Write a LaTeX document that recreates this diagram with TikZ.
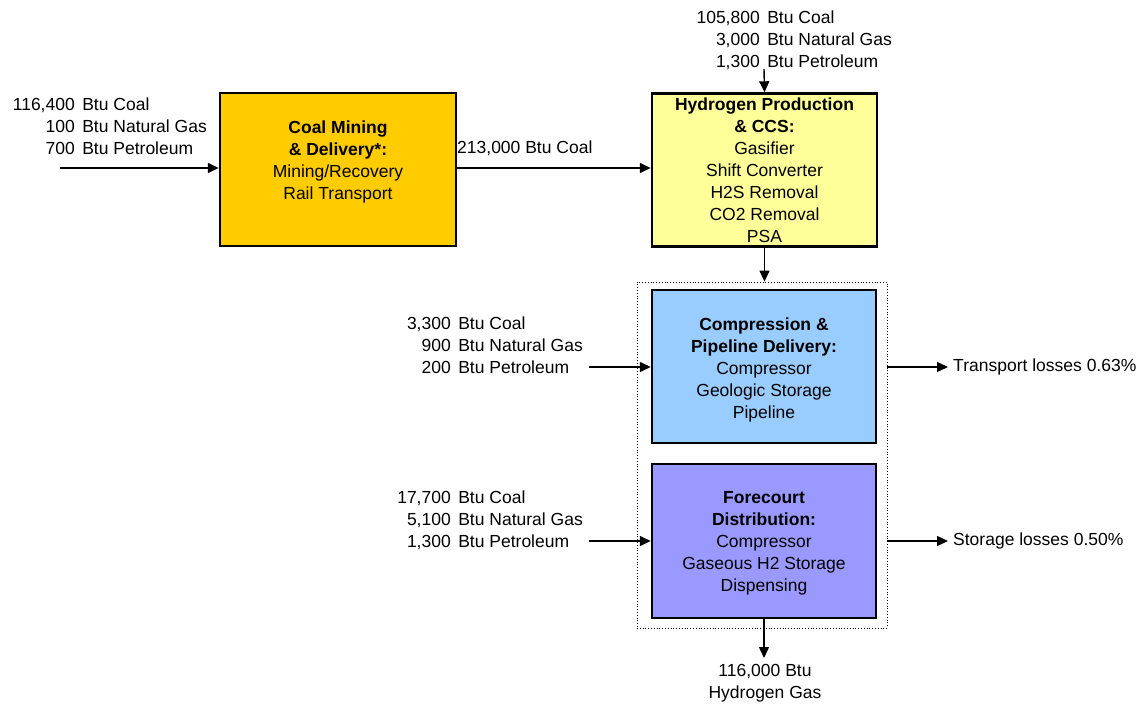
\documentclass[tikz,border=0pt]{standalone}
\usepackage{fontspec}
\setmainfont{Liberation Sans}
\usetikzlibrary{arrows.meta}
\definecolor{coalfill}{HTML}{FFCC00}
\definecolor{hydfill}{HTML}{FFFF99}
\definecolor{compfill}{HTML}{99CCFF}
\definecolor{forefill}{HTML}{9999FF}
\begin{document}
\begin{tikzpicture}[x=1pt,y=-1pt,
  every node/.style={font=\fontsize{17.5}{22}\selectfont, inner sep=0pt},
  procbox/.style={draw=black, line width=2.4pt, minimum width=#1},
  flow/.style={line width=1.4pt, -{Triangle[length=11pt,width=10pt]}},
  intext/.style={anchor=east, align=right},
  boxtext/.style={align=center}
]
\useasboundingbox (0,0) rectangle (1141,707);
\renewcommand{\arraystretch}{1}
\newcommand{\inputs}[3]{\begin{tabular}{@{}r@{\hspace{7.5pt}}l@{}}#1 & Btu Coal\\ #2 & Btu Natural Gas\\ #3 & Btu Petroleum\end{tabular}}

% dotted container
\node[draw=black, dotted, line width=0.8pt, minimum width=250pt, minimum height=346pt] (grp) at (762,455) {};

% boxes
\node[procbox=236pt, fill=coalfill, minimum height=153pt] (coal) at (338,169.5) {};
\node[procbox=225pt, fill=hydfill, minimum height=153pt] (hyd) at (764.5,170) {};
\node[procbox=224pt, fill=compfill, minimum height=153pt] (comp) at (764,366.5) {};
\node[procbox=224pt, fill=forefill, minimum height=154pt] (fore) at (764,541) {};

% box texts
\node[boxtext] (coaltxt) at (338,162) {\textbf{Coal Mining}\\\textbf{\& Delivery*:}\\Mining/Recovery\\Rail Transport};
\node[boxtext] (hydtxt) at (764.5,170) {\textbf{Hydrogen Production}\\\textbf{\& CCS:}\\Gasifier\\Shift Converter\\H2S Removal\\CO2 Removal\\PSA};
\node[boxtext] (comptxt) at (764,369.5) {\textbf{Compression \&}\\\textbf{Pipeline Delivery:}\\Compressor\\Geologic Storage\\Pipeline};
\node[boxtext] (foretxt) at (764,543.5) {\textbf{Forecourt}\\\textbf{Distribution:}\\Compressor\\Gaseous H2 Storage\\Dispensing};

% input texts
\node[intext] (in1) at (207,128) {\inputs{116,400}{100}{700}};
\node[intext] (in2) at (892,41) {\inputs{105,800}{3,000}{1,300}};
\node[intext] (in3) at (583,347) {\inputs{3,300}{900}{200}};
\node[intext] (in4) at (583,521) {\inputs{17,700}{5,100}{1,300}};

% coordinates for free ends
\coordinate (s1) at (60,168);
\coordinate (s2) at (764,69);
\coordinate (s3) at (589,367);
\coordinate (s4) at (589,541);
\coordinate (e1) at (948,367);
\coordinate (e2) at (948,541);
\coordinate (e3) at (764,658);

% arrows
\draw[flow] (s1) -- (s1 -| coal.west);
\draw[flow] (coal.east |- s1) -- (hyd.west |- s1);
\node[anchor=west] (coallbl) at (457,148) {213,000 Btu Coal};
\draw[flow] (s2) -- (hyd.north);
\draw[flow] (hyd.south) -- (grp.north -| hyd.south);
\draw[flow] (s3) -- (comp.west |- s3);
\draw[flow] (s4) -- (fore.west |- s4);
\draw[flow] (grp.east |- e1) -- (e1);
\draw[flow] (grp.east |- e2) -- (e2);
\draw[flow] (fore.south) -- (e3);

% output labels
\node[anchor=west] (tl) at (953,367) {Transport losses 0.63\%};
\node[anchor=west] (sl) at (953,541) {Storage losses 0.50\%};
\node[boxtext, anchor=north] (out) at (765,664) {116,000 Btu\\Hydrogen Gas};
\end{tikzpicture}
\end{document}
